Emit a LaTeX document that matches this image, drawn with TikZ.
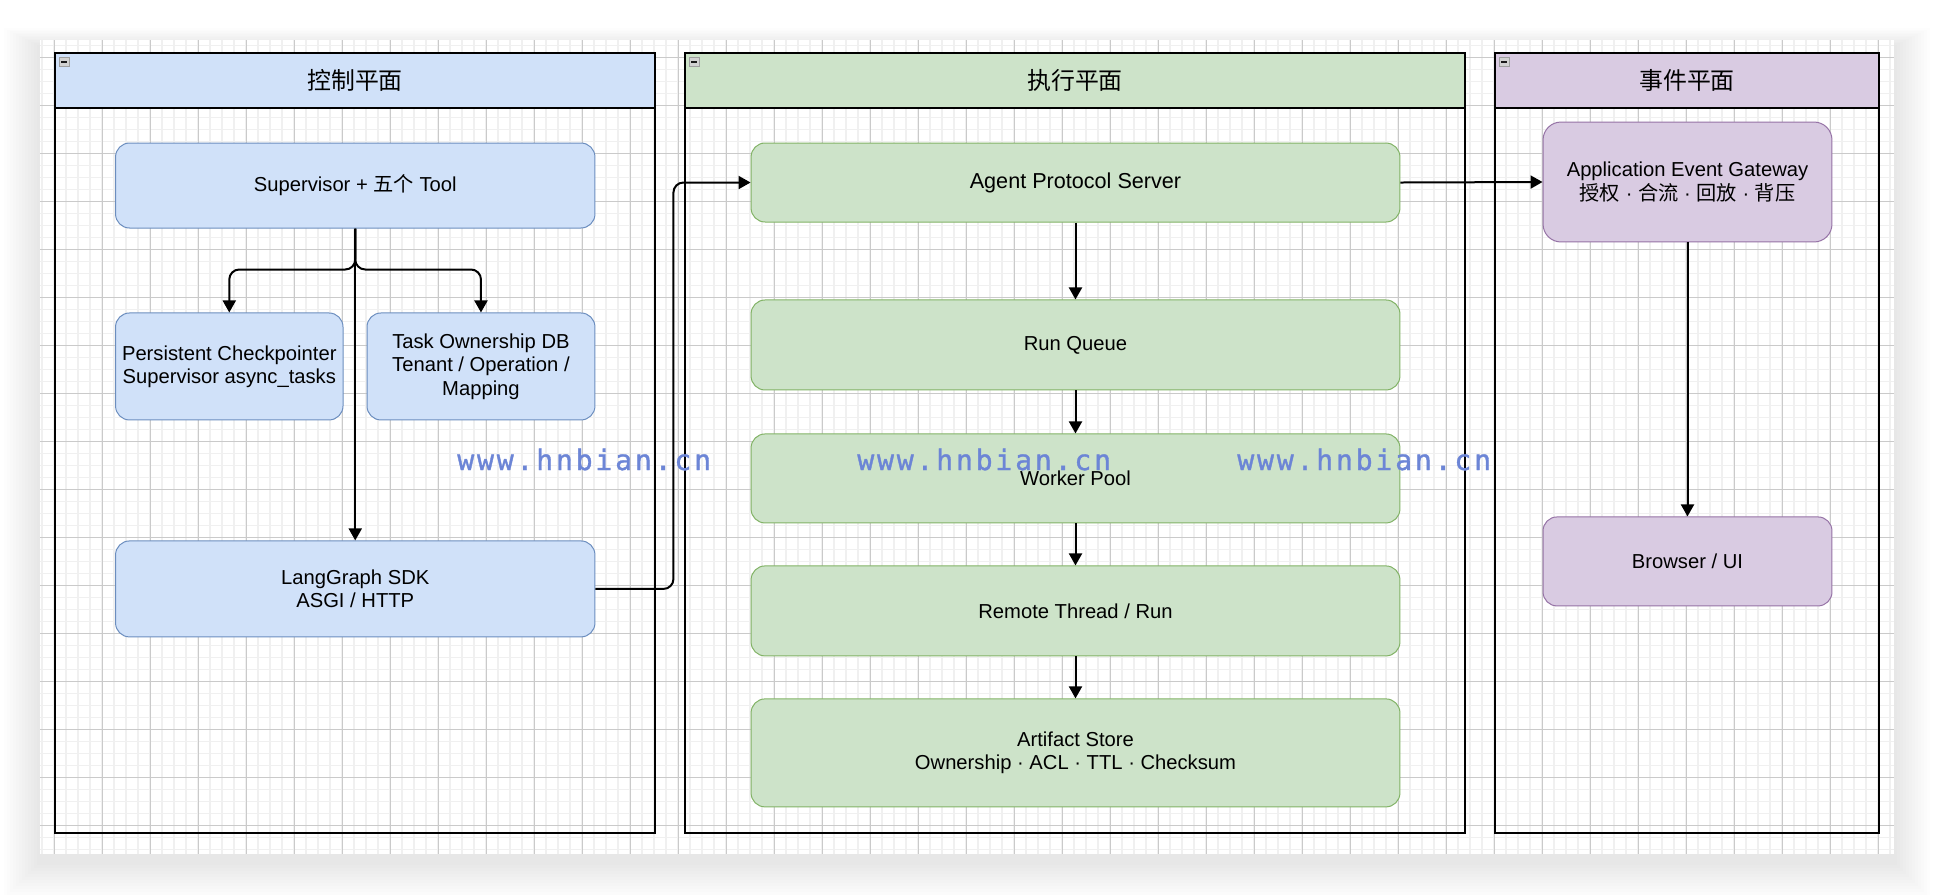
\documentclass[tikz,border=0pt]{standalone}
\usepackage{fontspec}
\setmainfont{Liberation Sans}
\newfontfamily\cjk{Noto Sans CJK SC}
\newfontfamily\wmfont[LetterSpace=10,FakeBold=1.2]{DejaVu Sans Mono}
\usepackage{xcolor}
\usetikzlibrary{arrows.meta,positioning}

\definecolor{ctrlfill}{RGB}{208,225,249}
\definecolor{ctrlline}{RGB}{108,142,191}
\definecolor{execfill}{RGB}{205,227,201}
\definecolor{execline}{RGB}{130,179,102}
\definecolor{evtfill}{RGB}{217,203,226}
\definecolor{evtline}{RGB}{150,115,166}
\definecolor{gridminor}{RGB}{240,240,240}
\definecolor{gridmajor}{RGB}{202,202,202}
\definecolor{wmblue}{RGB}{108,133,214}

\begin{document}
\begin{tikzpicture}[
x=0.02cm,y=-0.02cm,
lane/.style={draw=black,line width=0.3mm,inner sep=0,minimum height=15.6cm},
head/.style={draw=black,line width=0.3mm,inner sep=0,minimum height=1.1cm,anchor=north,font={\cjk\fontsize{13.6}{16}\selectfont}},
box/.style={draw,line width=0.2mm,rounded corners=0.28cm,align=center,inner sep=0,font=\fontsize{11.5}{13.3}\selectfont},
ctrlbox/.style={box,fill=ctrlfill,draw=ctrlline},
execbox/.style={box,fill=execfill,draw=execline,minimum width=12.98cm},
evtbox/.style={box,fill=evtfill,draw=evtline,minimum width=5.78cm},
icon/.style={fill=gray!35,draw=gray!75,line width=0.15mm},
arrow/.style={-{Triangle[length=2.4mm,width=2.6mm]},line width=0.4mm,rounded corners=0.2cm},
wm/.style={text=wmblue,inner sep=0,font={\wmfont\fontsize{16}{18}\selectfont}},
]
\useasboundingbox (0,0) rectangle (1934,894);
% canvas shadow and grid
\foreach \k in {1,...,12}
  \fill[black,opacity=0.006] ({40-3*\k},{46-1.5*\k}) rectangle ({1894+3*\k},{862+3*\k});
\fill[white] (40,40) rectangle (1894,854);
\begin{scope}
\clip (40,40) rectangle (1894,854);
\foreach \i in {3,...,157} \draw[gridminor,line width=0.3mm] ({6+12*\i},40) -- ({6+12*\i},854);
\foreach \i in {3,...,70} \draw[gridminor,line width=0.3mm] (40,{9.3+12*\i}) -- (1894,{9.3+12*\i});
\foreach \i in {1,...,39} \draw[gridmajor,line width=0.2mm] ({6+48*\i},40) -- ({6+48*\i},854);
\foreach \i in {1,...,17} \draw[gridmajor,line width=0.2mm] (40,{9.3+48*\i}) -- (1894,{9.3+48*\i});
\end{scope}

% lanes
\node[lane,minimum width=12cm] (ctrl) at (355,443) {};
\node[head,fill=ctrlfill,minimum width=12cm] (ctrlhead) at (ctrl.north) {控制平面};
\node[lane,minimum width=15.6cm] (exec) at (1075,443) {};
\node[head,fill=execfill,minimum width=15.6cm] (exechead) at (exec.north) {执行平面};
\node[lane,minimum width=7.68cm] (evt) at (1687,443) {};
\node[head,fill=evtfill,minimum width=7.68cm] (evthead) at (evt.north) {事件平面};
\foreach \l in {ctrl,exec,evt}{
  \draw[icon] ([shift={(5,5)}]\l.north west) rectangle ++(10,9);
  \draw[gray!20!black,line width=0.3mm] ([shift={(7,9.5)}]\l.north west) -- ++(6,0);
}

% control plane
\node[ctrlbox,minimum width=9.59cm,minimum height=1.7cm] (sup) at (355.25,185.5) {Supervisor + {\cjk 五个} Tool};
\node[ctrlbox,minimum width=4.55cm,minimum height=2.14cm,below right=1.68cm and 0cm of sup.south west] (ckpt) {Persistent Checkpointer\\Supervisor async\_tasks};
\node[ctrlbox,minimum width=4.56cm,minimum height=2.14cm,below left=1.68cm and 0cm of sup.south east] (owner) {Task Ownership DB\\Tenant / Operation /\\Mapping};
\node[ctrlbox,minimum width=9.59cm,minimum height=1.92cm,below right=2.4cm and 0cm of ckpt.south west] (sdk) {LangGraph SDK\\ASGI / HTTP};

% execution plane
\node[execbox,minimum height=1.58cm,font=\fontsize{12.3}{14}\selectfont] (server) at (1075.5,182.5) {Agent Protocol Server};
\node[execbox,minimum height=1.8cm,below=1.54cm of server] (queue) {Run Queue};
\node[execbox,minimum height=1.78cm,below=0.86cm of queue] (pool) {Worker Pool};
\node[execbox,minimum height=1.8cm,below=0.84cm of pool] (remote) {Remote Thread / Run};
\node[execbox,minimum height=2.16cm,below=0.84cm of remote] (store) {Artifact Store\\Ownership · ACL · TTL · Checksum};

% event plane
\node[evtbox,rounded corners=0.36cm,minimum height=2.4cm] (gateway) at (1687.5,182) {Application Event Gateway\\{\cjk 授权} · {\cjk 合流} · {\cjk 回放} · {\cjk 背压}};
\node[evtbox,minimum height=1.78cm,below=5.48cm of gateway] (browser) {Browser / UI};

% connectors
\draw[arrow] (sup.south) -- ++(0,41) -| (ckpt.north);
\draw[arrow] (sup.south) -- ++(0,41) -| (owner.north);
\draw[arrow] (sup.south) -- (sdk.north);
\draw[arrow] (sdk.east) -- ++(78,0) |- (server.west);
\draw[arrow] (server) -- (queue);
\draw[arrow] (queue) -- (pool);
\draw[arrow] (pool) -- (remote);
\draw[arrow] (remote) -- (store);
\draw[arrow] (server.east) -- (gateway.west);
\draw[arrow] (gateway) -- (browser);

% watermark
\node[wm,anchor=base west] (wm1) at (457,470) {www.hnbian.cn};
\node[wm,anchor=base west] (wm2) at (857,470) {www.hnbian.cn};
\node[wm,anchor=base west] (wm3) at (1237,470) {www.hnbian.cn};
\end{tikzpicture}
\end{document}
